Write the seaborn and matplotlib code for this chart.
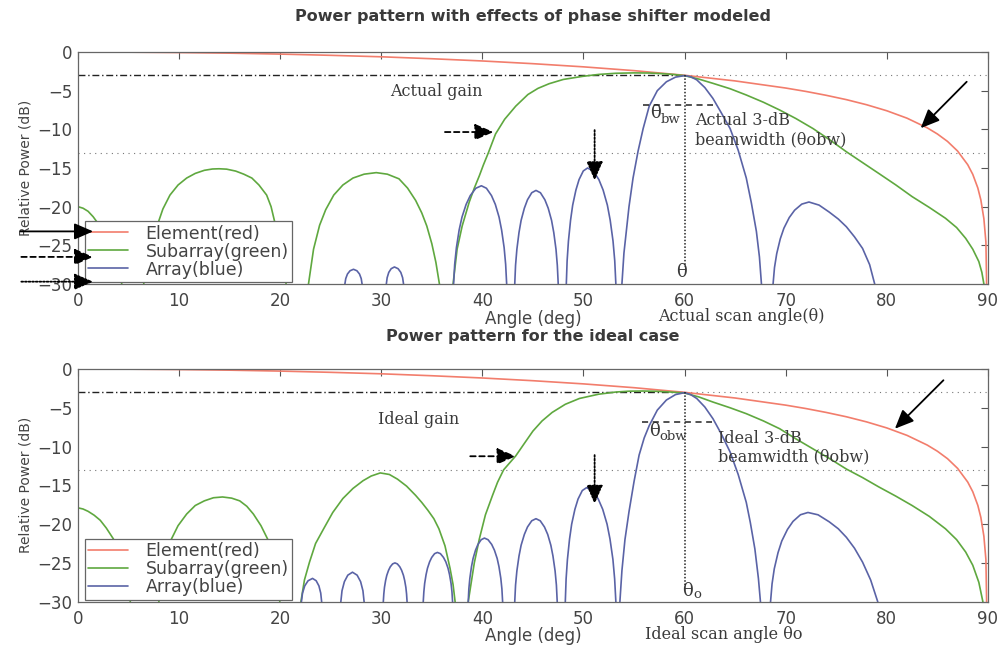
import numpy as np
import pandas as pd
import matplotlib
matplotlib.use("Agg")
import matplotlib.pyplot as plt
import matplotlib.transforms as mtransforms
import seaborn as sns

# ---------------- data ----------------
element_deg = [0, 5, 10, 15, 20, 25, 30, 35, 40, 45, 50, 55, 60, 65, 70, 72, 74, 76,
               78, 80, 82, 84, 85, 86, 87, 88, 88.5, 89, 89.3, 89.6, 89.8, 90]
element_db = [0, -0.02, -0.07, -0.15, -0.27, -0.43, -0.62, -0.87, -1.16, -1.51, -1.92,
              -2.41, -3.01, -3.74, -4.66, -5.10, -5.60, -6.16, -6.82, -7.60, -8.56,
              -9.81, -10.6, -11.56, -12.81, -14.57, -15.82, -17.58, -19.13, -21.56,
              -24.57, -40]

# ---- top plot (phase shifter modeled) ----
sub_top_deg = [0, 0.5, 1.0, 1.5, 2.0, 2.5, 3.0, 3.5, 4.0, 4.5, 4.9,
               6.0, 6.5, 7.0, 7.4, 7.85, 8.4, 9.1, 9.9, 10.75, 11.6, 12.5, 13.3, 13.95,
               14.7, 15.6, 16.4, 17.2, 17.9, 18.66, 19.1, 19.5, 19.9, 20.3, 20.7, 21.0,
               22.5, 22.8, 23.3, 23.9, 24.5, 25.3, 26.2, 27.2, 28.3, 29.5, 30.6, 31.75,
               32.6, 33.4, 34.0, 34.5, 35.0, 35.4, 35.75, 36.1,
               36.7, 37.1, 37.5, 38.0, 38.7, 39.2, 39.7, 40.1, 40.6, 41.3, 42.2, 43.3,
               44.5, 45.5, 46.6, 48.0, 49.9, 51.5, 53.2, 55.0, 56.5, 58.0, 59.0, 60.0,
               61.4, 62.8, 64.5, 66.1, 67.8, 69.4, 71.0, 72.7, 74.4, 76.0, 77.6, 79.2,
               80.9, 82.5, 84.2, 85.8, 86.9, 87.8, 88.5, 89.1, 89.4, 89.6, 89.8]
sub_top_db = [-20.0, -20.2, -20.6, -21.3, -22.2, -23.2, -24.5, -26.0, -28.0, -31, -36,
              -36, -30, -26.5, -24.2, -22.4, -20.3, -18.5, -17.2, -16.3, -15.7, -15.3,
              -15.13, -15.1, -15.15, -15.4, -15.8, -16.3, -17.2, -18.5, -20.0, -22.2,
              -24.5, -27.5, -31, -36,
              -34, -30, -25.5, -22.4, -20.4, -18.5, -17.2, -16.3, -15.8, -15.6, -15.8,
              -16.4, -17.6, -19.2, -20.8, -22.5, -24.8, -27.2, -30, -35,
              -36, -30, -25.5, -22.5, -19.4, -17.6, -16.0, -14.6, -13.0, -10.6, -8.7,
              -7.0, -5.5, -4.7, -4.1, -3.55, -3.15, -2.9, -2.75, -2.7, -2.72, -2.82,
              -2.92, -3.06, -3.5, -4.05, -4.75, -5.56, -6.5, -7.5, -8.6, -9.9, -11.4,
              -12.9, -14.3, -15.7, -17.2, -18.7, -20.1, -21.5, -22.7, -24.1, -25.5,
              -27.1, -28.5, -30, -34]

arr_top_deg = [26.36, 26.4, 26.485, 26.655, 26.91, 27.25, 27.59, 27.845, 28.015, 28.1,
               28.14,
               30.46, 30.5, 30.58, 30.74, 30.98, 31.3, 31.66, 31.93, 32.11, 32.2, 32.245,
               37.01, 37.15, 37.26, 37.43, 37.7, 37.98, 38.39, 38.8, 39.35, 39.9, 40.4,
               40.9, 41.28, 41.65, 41.9, 42.15, 42.3, 42.4, 42.53,
               43.1, 43.2, 43.28, 43.41, 43.62, 43.83, 44.15, 44.46, 44.88, 45.3, 45.74,
               46.18, 46.51, 46.84, 47.06, 47.28, 47.41, 47.5, 47.61,
               48.2, 48.3, 48.38, 48.51, 48.72, 48.93, 49.25, 49.56, 49.98, 50.4, 50.96,
               51.52, 51.94, 52.36, 52.64, 52.92, 53.09, 53.2, 53.34,
               53.65, 53.8, 54.0, 54.5, 54.9, 55.4, 55.9, 56.5, 57.3, 58.2, 59.1, 60.0,
               60.6, 61.2, 62.0, 62.8, 63.6, 64.5, 65.3, 66.1, 66.6, 67.1, 67.4, 67.6,
               67.7,
               68.57, 68.75, 68.89, 69.11, 69.46, 69.82, 70.35, 70.88, 71.59, 72.3, 73.3,
               74.3, 75.2, 76.0, 76.8, 77.6, 78.3, 78.8, 79.1]
arr_top_db = [-36, -30, -29.3, -28.71, -28.29, -28.1, -28.29, -28.71, -29.3, -30, -36,
              -36, -30, -29.19, -28.5, -28.02, -27.8, -28.02, -28.5, -29.19, -30, -36,
              -36, -30, -27.46, -25.3, -23.02, -21.36, -19.71, -18.57, -17.62, -17.3,
              -17.62, -18.57, -19.71, -21.36, -23.02, -25.3, -27.46, -30, -36,
              -36, -30, -27.58, -25.52, -23.35, -21.77, -20.2, -19.11, -18.2, -17.9,
              -18.2, -19.11, -20.2, -21.77, -23.35, -25.52, -27.58, -30, -36,
              -36, -30, -27.0, -24.45, -21.75, -19.8, -17.85, -16.5, -15.38, -15.0,
              -15.38, -16.5, -17.85, -19.8, -21.75, -24.45, -27.0, -30, -36,
              -36, -30, -26, -20, -16.3, -12.8, -9.9, -7.0, -5.0, -3.85, -3.25, -3.05,
              -3.2, -3.6, -4.6, -6.0, -7.8, -9.9, -12.7, -16.3, -19.5, -23.2, -26.5,
              -30, -36,
              -36, -30, -27.88, -26.08, -24.17, -22.79, -21.41, -20.46, -19.67, -19.4,
              -19.8, -20.7, -21.6, -22.6, -23.9, -25.4, -27.5, -30, -36]

# ---- bottom plot (ideal case) ----
sub_bot_deg = [0, 0.5, 1.0, 1.6, 2.2, 2.8, 3.5, 4.2, 4.8, 5.3, 5.6,
               7.6, 8.0, 8.5, 9.1, 9.9, 10.75, 11.6, 12.5, 13.4, 14.3, 15.2, 16.0, 16.7,
               17.35, 18.1, 18.9, 19.4, 19.9, 20.2,
               21.85, 22.05, 22.4, 22.9, 23.5, 24.3, 25.2, 26.2, 27.2, 28.2, 29.0, 29.9,
               30.8, 31.6, 32.5, 33.4, 34.0, 34.6, 35.2, 35.7, 36.3, 36.8, 37.1, 37.3,
               37.5,
               38.4, 38.6, 38.9, 39.2, 39.7, 40.3, 41.0, 41.5, 42.1, 43.3, 44.2, 45.0,
               45.9, 46.9, 48.2, 49.6, 51.5, 53.2, 54.5, 55.9, 57.3, 58.6, 60.0, 61.4,
               62.8, 64.5, 66.1, 67.8, 69.4, 71.0, 72.7, 74.4, 76.0, 77.6, 79.2, 80.9,
               82.5, 84.2, 85.8, 86.9, 87.8, 88.5, 89.1, 89.5, 89.8]
sub_bot_db = [-17.9, -18.05, -18.35, -18.85, -19.5, -20.5, -21.9, -24.0, -27, -31, -36,
              -36, -30, -25.5, -22.3, -20.2, -18.7, -17.6, -17.0, -16.6, -16.5, -16.65,
              -17.0, -17.7, -18.7, -20.2, -22.3, -25, -29, -34,
              -36, -30, -27.2, -24.9, -22.5, -20.6, -18.5, -16.7, -15.4, -14.4, -13.8,
              -13.4, -13.6, -14.2, -15.1, -16.3, -17.2, -18.2, -19.3, -20.6, -22.8,
              -25.7, -27.8, -30, -36,
              -36, -30, -27.5, -25.0, -21.9, -18.8, -16.3, -14.6, -13.0, -11.2, -9.5,
              -8.0, -6.7, -5.6, -4.55, -3.8, -3.25, -2.97, -2.86, -2.84, -2.88, -2.97,
              -3.1, -3.6, -4.26, -5.0, -5.76, -6.7, -7.7, -9.0, -10.3, -11.6, -12.9,
              -14.0, -15.2, -16.4, -17.6, -19.0, -20.6, -22.0, -23.6, -25.3, -27.5,
              -30, -36]

arr_bot_deg = [22.05, 22.1, 22.21, 22.43, 22.76, 23.2, 23.56, 23.83, 24.01, 24.1, 24.15,
               25.94, 26.0, 26.115, 26.35, 26.69, 27.15, 27.61, 27.955, 28.185, 28.3,
               28.36,
               30.14, 30.2, 30.25, 30.315, 30.43, 30.545, 30.72, 30.89, 31.12, 31.35,
               31.59, 31.83, 32.01, 32.19, 32.31, 32.43, 32.5, 32.55, 32.61,
               34.08, 34.15, 34.21, 34.29, 34.43, 34.57, 34.78, 34.99, 35.27, 35.55,
               35.85, 36.15, 36.38, 36.6, 36.75, 36.9, 36.99, 37.05, 37.13,
               38.52, 38.6, 38.66, 38.76, 38.92, 39.08, 39.32, 39.56, 39.88, 40.2, 40.56,
               40.92, 41.19, 41.46, 41.64, 41.82, 41.93, 42.0, 42.09,
               43.1, 43.2, 43.28, 43.41, 43.62, 43.83, 44.15, 44.46, 44.88, 45.3, 45.72,
               46.14, 46.46, 46.77, 46.98, 47.19, 47.32, 47.4, 47.51,
               48.1, 48.2, 48.28, 48.41, 48.62, 48.83, 49.15, 49.46, 49.88, 50.3, 50.88,
               51.46, 51.9, 52.33, 52.62, 52.91, 53.08, 53.2, 53.35,
               53.45, 53.6, 53.8, 54.1, 54.5, 55.0, 55.5, 56.0, 56.5, 57.3, 58.2, 59.1,
               60.0, 60.6, 61.2, 62.0, 62.8, 63.6, 64.5, 65.3, 66.1, 66.5, 66.95, 67.3,
               67.5, 67.6,
               68.32, 68.5, 68.65, 68.87, 69.24, 69.61, 70.17, 70.72, 71.46, 72.2, 73.2,
               74.3, 75.2, 76.0, 76.8, 77.6, 78.4, 79.1, 79.4]
arr_bot_db = [-36, -30, -28.89, -27.96, -27.3, -27.0, -27.3, -27.96, -28.89, -30, -36,
              -36, -30, -28.59, -27.42, -26.58, -26.2, -26.58, -27.42, -28.59, -30, -36,
              -36, -30, -29.0, -28.15, -27.25, -26.6, -25.95, -25.5, -25.13, -25.0,
              -25.13, -25.5, -25.95, -26.6, -27.25, -28.15, -29.0, -30, -36,
              -36, -30, -28.73, -27.65, -26.51, -25.68, -24.86, -24.29, -23.81, -23.65,
              -23.81, -24.29, -24.86, -25.68, -26.51, -27.65, -28.73, -30, -36,
              -36, -30, -28.36, -26.97, -25.49, -24.42, -23.36, -22.62, -22.01, -21.8,
              -22.01, -22.62, -23.36, -24.42, -25.49, -26.97, -28.36, -30, -36,
              -36, -30, -27.86, -26.04, -24.12, -22.72, -21.33, -20.37, -19.57, -19.3,
              -19.57, -20.37, -21.33, -22.72, -24.12, -26.04, -27.86, -30, -36,
              -36, -30, -27.06, -24.56, -21.92, -20.0, -18.09, -16.77, -15.67, -15.3,
              -15.67, -16.77, -18.09, -20.0, -21.92, -24.56, -27.06, -30, -36,
              -36, -30, -26, -22, -18.4, -14.5, -11.1, -8.9, -7.3, -5.3, -4.0, -3.3,
              -3.05, -3.3, -3.8, -4.9, -6.4, -8.3, -10.7, -13.6, -17.2, -19.8, -23.2,
              -27, -30, -36,
              -36, -30, -27.7, -25.75, -23.68, -22.18, -20.69, -19.65, -18.79, -18.5,
              -18.8, -19.7, -20.6, -21.7, -23.1, -24.9, -27.2, -30, -36]

series_labels = ["Element(red)", "Subarray(green)", "Array(blue)"]
series_colors = ["#f27d6c", "#5fa83f", "#5a63a6"]
titles = ["Power pattern with effects of phase shifter modeled",
          "Power pattern for the ideal case"]
x_ticks = [0, 10, 20, 30, 40, 50, 60, 70, 80, 90]
y_ticks = [0, -5, -10, -15, -20, -25, -30]

gain_db = -3.0
sidelobe_db = -13.0
scan_deg = 60

# ---------------- figure ----------------
sns.set_theme(style="white")
plt.rcParams["font.family"] = ["DejaVu Sans"]

fig = plt.figure(figsize=(9.97, 6.46), dpi=100)
fig.patch.set_facecolor("white")
ax_top = fig.add_axes([0.0782, 0.5604, 0.9127, 0.3591])
ax_bot = fig.add_axes([0.0782, 0.0686, 0.9127, 0.3602])

TXT = "#3a3a3a"
SERIF = "DejaVu Serif"


def make_df(sub_deg, sub_db, arr_deg, arr_db):
    parts = [
        pd.DataFrame({"deg": element_deg, "db": element_db, "series": series_labels[0]}),
        pd.DataFrame({"deg": sub_deg, "db": sub_db, "series": series_labels[1]}),
        pd.DataFrame({"deg": arr_deg, "db": arr_db, "series": series_labels[2]}),
    ]
    return pd.concat(parts, ignore_index=True)


def theta_sub(ax, x, y, sub, dx, dy):
    ax.text(x, y, "θ", family=SERIF, fontsize=13, color=TXT, ha="left", va="center")
    if sub:
        ax.annotate(sub, xy=(x, y), xycoords="data", xytext=(dx, dy),
                    textcoords="offset points", family=SERIF, fontsize=9.5,
                    color=TXT, ha="left", va="center", annotation_clip=False)


def draw(ax, df, xlabel_y, scan_text, scan_x, gain_text, gain_xy,
         bw_xy, bw_sub, bw_lines, bw_db, bw_text_x, bw_text_y, bw_first,
         theta_xy, theta_subtxt):
    sns.lineplot(data=df, x="deg", y="db", hue="series", palette=series_colors,
                 hue_order=series_labels, estimator=None, sort=False, ax=ax,
                 legend=False, linewidth=1.2)
    ax.set_xlim(0, 90)
    ax.set_ylim(-30, 0)
    ax.set_xticks(x_ticks)
    ax.set_yticks(y_ticks)
    ax.tick_params(direction="in", top=True, right=True, length=5, width=0.8,
                   color="#555", labelcolor="#444", labelsize=12)
    ax.tick_params(axis="x", pad=6)
    ax.tick_params(axis="y", pad=4)
    for sp in ax.spines.values():
        sp.set_color("#666")
        sp.set_linewidth(0.9)
    ax.set_xlabel("Angle (deg)", fontsize=12, color="#444")
    ax.xaxis.set_label_coords(0.5, xlabel_y)
    ax.set_ylabel("Relative Power (dB)", fontsize=10, color="#444")
    ax.yaxis.set_label_coords(-0.0495, 0.5)

    # reference lines
    ax.axhline(sidelobe_db, color="#777", lw=0.8, ls=(0, (1, 4)), zorder=1)
    ax.plot([scan_deg, 90], [gain_db, gain_db], color="#777", lw=0.8,
            ls=(0, (1, 4)), zorder=1)
    ax.plot([0, scan_deg], [gain_db, gain_db], color="#222", lw=1.0,
            ls=(0, (5, 2, 1, 2)), zorder=1)
    ax.plot([scan_deg, scan_deg], [gain_db, -27.8], color="#222", lw=1.1,
            ls=(0, (1, 1.2)), zorder=4)
    ax.plot([bw_lines[0], bw_lines[1]], [bw_db, bw_db], color="#222", lw=1.1,
            ls=(0, (4, 3)), zorder=4)

    # texts
    ax.text(gain_xy[0], gain_xy[1], gain_text, family=SERIF, fontsize=11.5,
            color=TXT, ha="left", va="center")
    theta_sub(ax, bw_xy[0], bw_xy[1], bw_sub, 7.5, -4)
    ax.text(bw_text_x, bw_text_y[0], bw_first, family=SERIF, fontsize=11.5,
            color=TXT, ha="left", va="center")
    ax.text(bw_text_x, bw_text_y[1], "beamwidth (θobw)", family=SERIF,
            fontsize=11.5, color=TXT, ha="left", va="center")
    theta_sub(ax, theta_xy[0], theta_xy[1], theta_subtxt, 7.5, -3)
    tr = mtransforms.blended_transform_factory(ax.transData, ax.transAxes)
    ax.text(scan_x, -0.142, scan_text, family=SERIF, fontsize=11.5,
            color=TXT, ha="center", va="center", transform=tr)

    leg = ax.legend(handles=ax.lines[:3], labels=series_labels, loc="lower left",
                    bbox_to_anchor=(0.0077, 0.0086), borderaxespad=0,
                    fontsize=12.5, frameon=True, fancybox=False, framealpha=1,
                    edgecolor="#666", handlelength=2.3, handletextpad=1.0,
                    labelspacing=0.0, borderpad=0.2)
    leg.get_frame().set_linewidth(0.9)
    for t in leg.get_texts():
        t.set_color("#444")


def arrow(ax, start, tip, ls="-"):
    ax.annotate("", xy=tip, xytext=start, xycoords="data", textcoords="data",
                annotation_clip=False, zorder=12,
                arrowprops=dict(arrowstyle="-|>,head_length=1.15,head_width=0.5",
                                color="black", lw=1.3, linestyle=ls,
                                shrinkA=0, shrinkB=0, mutation_scale=10))


df_top = make_df(sub_top_deg, sub_top_db, arr_top_deg, arr_top_db)
df_bot = make_df(sub_bot_deg, sub_bot_db, arr_bot_deg, arr_bot_db)

draw(ax_top, df_top, -0.112, "Actual scan angle(θ)", 65.6, "Actual gain",
     (30.9, -5.15), (56.6, -7.95), "bw", (55.9, 62.8), -6.8, 61.0, (-8.8, -11.3),
     "Actual 3-dB", (59.2, -28.4), "")
draw(ax_bot, df_bot, -0.108, "Ideal scan angle θo", 63.85, "Ideal gain",
     (29.7, -6.55), (56.5, -7.95), "obw", (55.8, 62.7), -6.84, 63.35, (-8.9, -11.3),
     "Ideal 3-dB", (59.8, -28.6), "o")

for txt, yy in zip(titles, [1 - 17 / 646, 1 - 337 / 646]):
    fig.text(533 / 997, yy, txt, ha="center", va="center", fontsize=11.5,
             weight="bold", color=TXT)

# arrows (top)
arrow(ax_top, (-5.7, -23.2), (1.5, -23.2), "-")
arrow(ax_top, (-5.6, -26.5), (1.5, -26.5), (0, (3, 2)))
arrow(ax_top, (-5.6, -29.7), (1.5, -29.7), (0, (1, 1)))
arrow(ax_top, (36.3, -10.35), (41.1, -10.35), (0, (3, 2)))
arrow(ax_top, (51.1, -10.1), (51.1, -16.6), (0, (1, 1)))
arrow(ax_top, (87.9, -3.85), (83.35, -9.85), "-")
# arrows (bottom)
arrow(ax_bot, (38.8, -11.25), (43.3, -11.25), (0, (3, 2)))
arrow(ax_bot, (51.1, -11.1), (51.1, -17.4), (0, (1, 1)))
arrow(ax_bot, (85.6, -1.45), (80.8, -7.7), "-")

fig.savefig("out.png", dpi=100, facecolor="white")
